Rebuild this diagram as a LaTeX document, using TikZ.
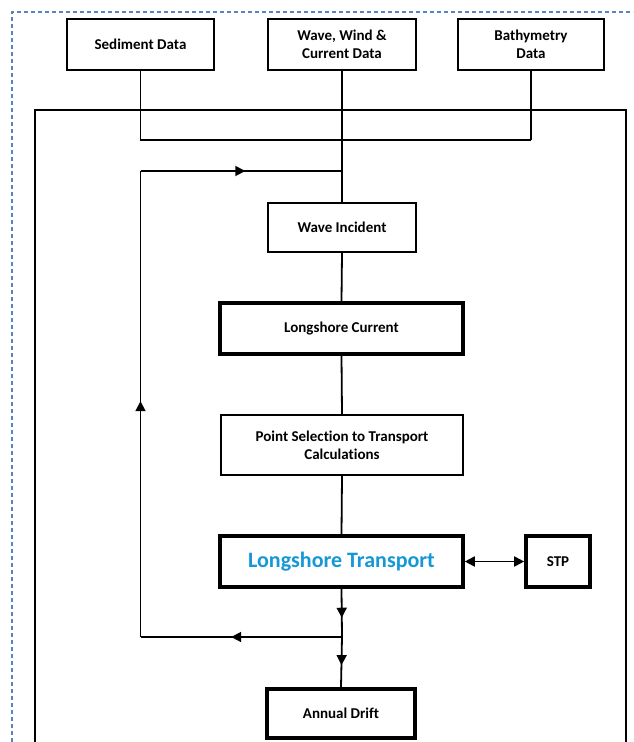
\documentclass[tikz,border=0pt]{standalone}
\usepackage{fontspec}
\setmainfont[Ligatures={NoCommon}]{Carlito}
\usetikzlibrary{arrows.meta,decorations.markings}
\definecolor{frameblue}{RGB}{84,132,194}
\definecolor{ltblue}{RGB}{22,152,214}
\tikzset{
  box/.style={draw=black, line width=1.8pt, fill=white, align=center, inner sep=2pt,
    font=\fontsize{15}{18}\selectfont\bfseries},
  thickbox/.style={box, line width=3.6pt},
  conn/.style={draw=black, line width=1.8pt},
  midarrow/.style={postaction={decorate}, decoration={markings,
    mark=at position #1 with {\arrow{Triangle[length=10pt,width=10pt]}}}}
}
\begin{document}
\begin{tikzpicture}[x=1pt,y=-1pt]
\useasboundingbox (0,0) rectangle (633,742);
% dashed frame
\draw[frameblue, line width=1.3pt, dash pattern=on 4pt off 3pt] (12,742) -- (12,12) -- (633,12);
% big rectangle
\draw[black, line width=2pt] (35,742) -- (35,110) -- (626,110) -- (626,742);
% top boxes
\node[box, minimum width=147pt, minimum height=51pt] (sed) at (140.5,44.5) {Sediment Data};
\node[box, minimum width=148pt, minimum height=51pt] (www) at (342,44.5) {Wave, Wind \&\\Current Data};
\node[box, minimum width=146pt, minimum height=51pt] (bat) at (531,44.5) {Bathymetry\\Data};
% process boxes
\node[box, minimum width=148pt, minimum height=49pt] (wi) at (342,227.5) {Wave Incident};
\node[thickbox, minimum width=243pt, minimum height=51pt] (lc) at (341.5,328.5) {Longshore Current};
\node[box, minimum width=242pt, minimum height=60pt] (ps) at (342,445) {Point Selection to Transport\\Calculations};
\node[thickbox, minimum width=243pt, minimum height=51pt, font=\fontsize{22}{26}\selectfont\bfseries, text=ltblue] (lt) at (341.5,561.5) {Longshore Transport};
\node[thickbox, minimum width=64pt, minimum height=51pt] (stp) at (558,561.5) {STP};
\node[thickbox, minimum width=148pt, minimum height=49pt] (ad) at (341,713.5) {Annual Drift};
% junction coordinates
\coordinate (j1) at (sed.south |- 0,140);
\coordinate (j2) at (www.south |- 0,140);
\coordinate (j3) at (bat.south |- 0,140);
\coordinate (fa) at (j1 |- 0,171);
\coordinate (fb) at (j2 |- 0,171);
\coordinate (fc) at (j1 |- 0,637);
\coordinate (fd) at (j2 |- 0,637);
% connectors
\draw[conn] (sed.south) -- (j1) -- (j3);
\draw[conn] (bat.south) -- (j3);
\draw[conn] (www.south) -- (j2) -- (wi.north);
\draw[conn] (wi.south) -- (lc.north);
\draw[conn] (lc.south) -- (ps.north);
\draw[conn] (ps.south) -- (lt.north);
\draw[conn, midarrow=0.6] (lt.south) -- (fd);
\draw[conn, midarrow=0.56] (fd) -- (ad.north);
% feedback loop
\draw[conn, midarrow=0.55] (fd) -- (fc);
\draw[conn, midarrow=0.506] (fc) -- (fa);
\draw[conn, midarrow=0.52] (fa) -- (fb);
% STP link
\draw[conn, {Triangle[length=10pt,width=10pt]}-{Triangle[length=10pt,width=10pt]}] (lt.east) -- (stp.west);
\end{tikzpicture}
\end{document}
